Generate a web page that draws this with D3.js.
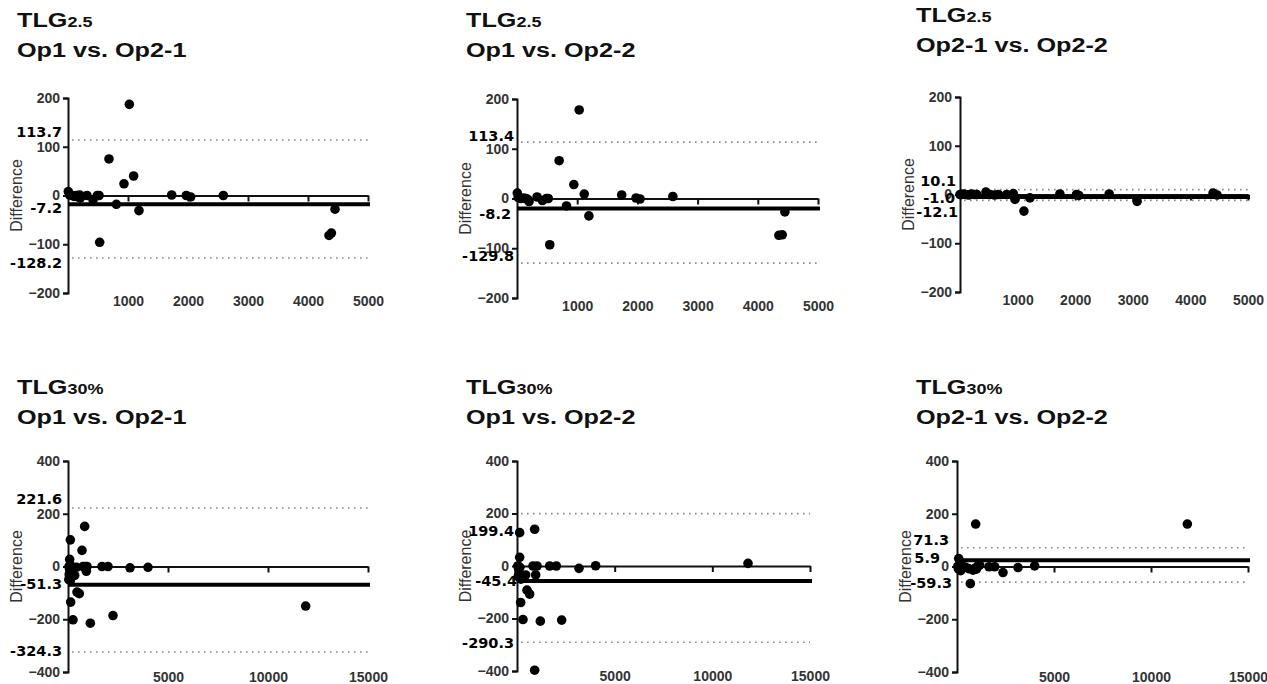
<!DOCTYPE html>
<html>
<head>
  <meta charset="UTF-8">
  <style>
    body { margin: 0; background: #fff; }
    svg { display: block; }
    .tick text { font-family: Arial, "Liberation Sans", sans-serif; font-weight: bold; font-size: 14px; fill: #333; }
  </style>
  <title>Bland-Altman TLG</title>
</head>
<body>
<svg></svg>
<script src="https://d3js.org/d3.v7.min.js"></script>

<script>

let width = 1267, height = 684;

let svg = d3.select("svg")
    .attr("width", width)
    .attr("height", height);

// titles
let titleTop = ["TLG", "TLG", "TLG", "TLG", "TLG", "TLG"];
let titleSub = ["2.5", "2.5", "2.5", "30%", "30%", "30%"];
let titleBottom = ["Op1 vs. Op2-1", "Op1 vs. Op2-2", "Op2-1 vs. Op2-2",
                   "Op1 vs. Op2-1", "Op1 vs. Op2-2", "Op2-1 vs. Op2-2"];

// x ticks, y ticks
let xTicksTop = [1000, 2000, 3000, 4000, 5000];
let xTicksBottom = [5000, 10000, 15000];
let yTicksTop = [-200, -100, 0, 100, 200];
let yTicksBottom = [-400, -200, 0, 200, 400];

// limits of agreement (upper, lower) and bias
let upperLoA = [113.7, 113.4, 10.1, 221.6, 199.4, 71.3];
let lowerLoA = [-128.2, -129.8, -12.1, -324.3, -290.3, -59.3];
let biasText = ["-7.2", "-8.2", "-1.0", "-51.3", "-45.4", "5.9"];
// where the thick bias line sits in the picture
let biasLine = [-18, -20, -5, -69, -57, 24];

// [mean, difference]
let pts1 = [[5,8],[28,1],[72,0],[139,0],[194,1],[206,-5],[160,-3],[100,-2],[317,0],[417,-9],[489,0],[517,0],
    [528,-96],[683,75],[806,-18],[933,24],[1022,187],[1094,40],[1183,-31],[1728,1],[1972,0],[2044,-3],
    [2589,0],[4350,-82],[4390,-77],[4450,-28]];
let pts2 = [[5,11],[20,2],[60,0],[110,1],[150,0],[200,-6],[180,-2],[333,3],[422,-4],[490,0],[520,0],
    [544,-93],[700,76],[822,-15],[944,28],[1033,178],[1117,9],[1194,-35],[1739,7],[1978,1],[2044,-1],
    [2589,4],[4350,-74],[4406,-73],[4450,-27]];
let pts3 = [[0,0],[30,0],[60,1],[100,0],[150,-1],[200,1],[250,0],[290,0],[450,5],[520,0],[600,-1],[665,0],
    [809,0],[925,2],[954,-10],[1110,-34],[1214,-7],[1734,1],[2023,0],[2064,-2],[2590,1],[3075,-14],
    [4393,3],[4462,-1]];
let pts4 = [[117,101],[83,27],[50,0],[80,-10],[100,-20],[60,-30],[120,5],[150,-8],[117,-53],[167,-38],
    [40,-50],[200,-15],[333,-34],[417,-3],[133,-135],[250,-202],[450,-97],[565,-103],[700,61],[833,152],
    [750,0],[950,0],[917,-18],[850,0],[1117,-215],[1700,0],[2000,0],[2250,-186],[3100,-5],[4000,-3],[11883,-150]];
let pts5 = [[137,127],[137,33],[40,0],[80,-10],[100,-25],[60,-40],[150,-5],[200,-50],[188,-139],[307,-204],
    [512,-92],[648,-107],[444,-34],[904,140],[820,0],[1024,0],[956,-34],[904,-397],[1195,-210],[1672,0],
    [2014,0],[2287,-206],[3174,-9],[4027,1],[11826,10]];
let pts6 = [[962,161],[11873,161],[86,30],[40,0],[80,-10],[120,5],[160,-5],[189,-16],[300,0],[450,-3],
    [600,-8],[687,-65],[825,-14],[900,-8],[997,-10],[1050,0],[1168,5],[1650,-1],[1940,-1],[2371,-23],
    [3144,-4],[4003,2]];

let allPts = [pts1, pts2, pts3, pts4, pts5, pts6];

// value labels beside the lines: [text, y (data units) of label centre, right edge x]
let labels = [
  [["113.7", 131, 62], ["-7.2", -25, 62], ["-128.2", -137, 62]],
  [["113.4", 126, 514], ["-8.2", -30, 511], ["-129.8", -116, 514]],
  [["10.1", 29, 956], ["-1.0", -7, 955], ["-12.1", -36, 958]],
  [["221.6", 256, 62], ["-51.3", -65, 62], ["-324.3", -318, 62]],
  [["199.4", 134, 514], ["-45.4", -57, 517], ["-290.3", -292, 514]],
  [["71.3", 100, 949], ["5.9", 34, 940], ["-59.3", -62, 952]]
];

// panel boxes: axis x, right end, top, bottom, title x, title baseline
let panels = [
  {x0: 68,  x1: 368,  y0: 98,  y1: 293, xmax: 5000,  ymax: 200, tx: 17,  ty: 27},
  {x0: 517, x1: 818,  y0: 99,  y1: 298, xmax: 5000,  ymax: 200, tx: 466, ty: 27},
  {x0: 960, x1: 1248, y0: 97,  y1: 292, xmax: 5000,  ymax: 200, tx: 916, ty: 22},
  {x0: 68,  x1: 368,  y0: 461, y1: 672, xmax: 15000, ymax: 400, tx: 17,  ty: 394},
  {x0: 517, x1: 810,  y0: 461, y1: 671, xmax: 15000, ymax: 400, tx: 466, ty: 394},
  {x0: 957, x1: 1248, y0: 461, y1: 672, xmax: 15000, ymax: 400, tx: 916, ty: 394}
];

panels.forEach((p, i) => {
    let g = svg.append("g");
    let x = d3.scaleLinear().domain([0, p.xmax]).range([p.x0, p.x1]);
    let y = d3.scaleLinear().domain([-p.ymax, p.ymax]).range([p.y1, p.y0]);
    let top = i < 3;

    // title
    let t1 = g.append("text")
        .attr("transform", "translate(" + p.tx + "," + p.ty + ") scale(1.2,1)")
        .style("font-family", "Arial, 'Liberation Sans', sans-serif")
        .style("font-weight", "bold")
        .style("fill", "#111");
    t1.append("tspan").style("font-size", "21px").text(titleTop[i]);
    t1.append("tspan").style("font-size", "15px").text(titleSub[i]);
    g.append("text")
        .attr("transform", "translate(" + p.tx + "," + (p.ty + 30) + ") scale(1.2,1)")
        .style("font-family", "Arial, 'Liberation Sans', sans-serif")
        .style("font-weight", "bold")
        .style("font-size", "21px")
        .style("fill", "#111")
        .text(titleBottom[i]);

    // dotted limits
    [upperLoA[i], lowerLoA[i]].forEach(v => {
        g.append("line")
            .attr("x1", p.x0 + 4).attr("x2", p.x1)
            .attr("y1", y(v)).attr("y2", y(v))
            .attr("stroke", "#888")
            .attr("stroke-width", 1.6)
            .attr("stroke-dasharray", "1.6,4.4");
    });

    // y axis
    g.append("g")
        .attr("transform", "translate(" + p.x0 + ",0)")
        .call(d3.axisLeft(y).tickValues(top ? yTicksTop : yTicksBottom).tickSize(5).tickPadding(3).tickFormat(d3.format("d")))
        .call(a => a.selectAll("path, line").attr("stroke", "#111").attr("stroke-width", 2));

    // x axis along zero, ticks only
    g.append("g")
        .attr("transform", "translate(0," + y(0) + ")")
        .call(d3.axisBottom(x).tickValues(top ? xTicksTop : xTicksBottom).tickSize(6).tickSizeOuter(0).tickFormat(""))
        .call(a => a.selectAll("path, line").attr("stroke", "#111").attr("stroke-width", 2));

    // x tick labels at the bottom
    g.append("g")
        .attr("transform", "translate(0," + (top ? p.y1 + 1 : p.y1 - 2) + ")")
        .call(d3.axisBottom(x).tickValues(top ? xTicksTop : xTicksBottom).tickSize(0).tickPadding(2).tickFormat(d3.format("d")))
        .call(a => a.select(".domain").remove());

    // bias line
    g.append("line")
        .attr("x1", p.x0).attr("x2", p.x1 + 2)
        .attr("y1", y(biasLine[i])).attr("y2", y(biasLine[i]))
        .attr("stroke", "#000")
        .attr("stroke-width", 4);

    // points
    g.append("g")
        .selectAll("circle")
        .data(allPts[i])
        .enter()
        .append("circle")
        .attr("cx", d => x(d[0]))
        .attr("cy", d => y(d[1]))
        .attr("r", 4.8)
        .attr("fill", "#000");

    // axis title
    g.append("text")
        .attr("transform", "translate(" + (p.x0 - 46) + "," + y(0) + ") rotate(-90)")
        .attr("text-anchor", "middle")
        .style("font-family", "Arial, 'Liberation Sans', sans-serif")
        .style("font-size", "16px")
        .style("fill", "#333")
        .text("Difference");

    // value labels
    labels[i].forEach(l => {
        g.append("text")
            .attr("x", l[2])
            .attr("y", y(l[1]))
            .attr("dy", "0.36em")
            .attr("text-anchor", "end")
            .style("font-family", "'DejaVu Sans', Verdana, sans-serif")
            .style("font-weight", "bold")
            .style("font-size", "14.5px")
            .style("fill", "#000")
            .text(l[0]);
    });
});

</script>

</body>
</html>
